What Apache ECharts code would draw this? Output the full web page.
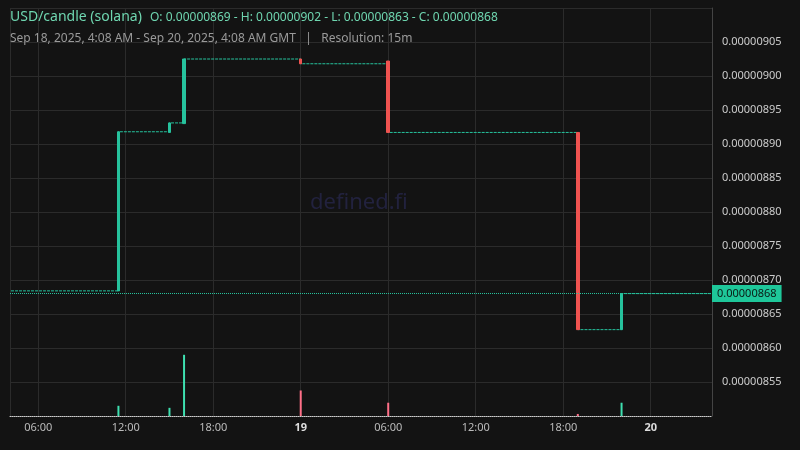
<!DOCTYPE html>
<html><head><meta charset="utf-8">
<script src="https://cdn.jsdelivr.net/npm/echarts@6/dist/echarts.min.js"></script>
<style>html,body{margin:0;background:#131313}#c{width:800px;height:450px}</style>
</head><body><div id="c"></div>
<script>
// prices in units of 1e-8 USD
const startTime = '2025-09-18T04:08:00Z';
const endTime = '2025-09-20T04:08:00Z';
// change candles: [time, open, close, low, high]
const candleTimes = ['2025-09-18T11:30:00Z','2025-09-18T15:00:00Z','2025-09-18T16:00:00Z','2025-09-19T00:00:00Z','2025-09-19T06:00:00Z','2025-09-19T19:00:00Z','2025-09-19T22:00:00Z'];
const candleOpen  = [868.4, 891.7, 893.0, 902.5, 902.2, 891.7, 862.7];
const candleClose = [891.8, 893.1, 902.5, 901.8, 891.7, 862.7, 868.0];
const candleLow   = [868.4, 891.7, 893.0, 901.8, 891.7, 862.7, 862.7];
const candleHigh  = [891.8, 893.1, 902.5, 902.5, 902.2, 891.7, 868.0];
const volumes     = [10, 8, 60, 25, 13, 2, 13];
const lastPrice = 868;
const yTicks = {min: 850, max: 910, step: 5};

const stepData = [[startTime, candleOpen[0]]];
candleTimes.forEach((t,i)=>stepData.push([t, candleClose[i]]));
stepData.push([endTime, lastPrice]);
const up='#26c29d', down='#ef5350';
const chart = echarts.init(document.getElementById('c'));
chart.setOption({
  useUTC: true, backgroundColor:'#131313', animation:false,
  textStyle:{fontFamily:'Noto Sans'},
  title:[
    {left:10,top:10,padding:0,text:'USD/candle (solana)',textStyle:{color:'#6fd6b0',fontSize:14,fontWeight:'normal'}},
    {left:150,top:12,padding:0,text:'O: 0.00000869 - H: 0.00000902 - L: 0.00000863 - C: 0.00000868',textStyle:{color:'#6fd6b0',fontSize:12,fontWeight:'normal'}},
    {left:10,top:33,padding:0,text:'Sep 18, 2025, 4:08 AM - Sep 20, 2025, 4:08 AM GMT   |   Resolution: 15m',textStyle:{color:'#9a9a9a',fontSize:12,fontWeight:'normal'}}
  ],
  graphic:[{type:'text',left:310,top:192,z:0,style:{text:'defined.fi',fill:'#22223e',font:'22px Noto Sans'}}],
  grid:{left:10,right:88,top:8,bottom:34},
  xAxis:{type:'time',min:startTime,max:endTime,interval:6*3600*1000,
    axisLine:{show:true,lineStyle:{color:'#cccccc',type:'dotted'}},axisTick:{show:false},
    splitLine:{show:true,lineStyle:{color:'#2b2b2b'}},
    axisLabel:{color:'#bbbbbb',fontSize:11,margin:6,formatter:{day:'{b|{d}}',hour:'{HH}:{mm}'},rich:{b:{fontWeight:'bold',color:'#dddddd',fontSize:11}}}},
  yAxis:[{type:'value',position:'right',min:yTicks.min,max:yTicks.max,interval:yTicks.step,
    axisLine:{show:true,lineStyle:{color:'#444'}},axisTick:{show:false},
    splitLine:{lineStyle:{color:'#2b2b2b'}},
    axisLabel:{showMinLabel:false,showMaxLabel:false,color:'#cccccc',fontSize:11,margin:10,formatter:v=>(v*1e-8).toFixed(8)}},
    {type:'value',min:0,max:400,show:false}],
  series:[
    {type:'line',step:'end',data:stepData,symbol:'none',lineStyle:{color:up,width:1,type:[3,1]},z:2},
    {type:'candlestick',barWidth:3,data:candleTimes.map((t,i)=>[t,candleOpen[i],candleClose[i],candleLow[i],candleHigh[i]]),
      itemStyle:{color:up,color0:down,borderColor:up,borderColor0:down,borderWidth:1},z:3,
      markLine:{symbol:'none',silent:true,data:[{yAxis:lastPrice}],lineStyle:{color:up,type:'dotted',width:1},
        label:{position:'end',distance:0,formatter:()=> (lastPrice*1e-8).toFixed(8),backgroundColor:'#1ec79a',color:'#0b1a14',fontSize:11,padding:[3,5]}}},
    {type:'bar',yAxisIndex:1,barWidth:2,data:candleTimes.map((t,i)=>({value:[t,volumes[i]],itemStyle:{color:candleClose[i]>=candleOpen[i]?'#3ee0b0':'#ff7088'}}))}
  ]
});
</script></body></html>
